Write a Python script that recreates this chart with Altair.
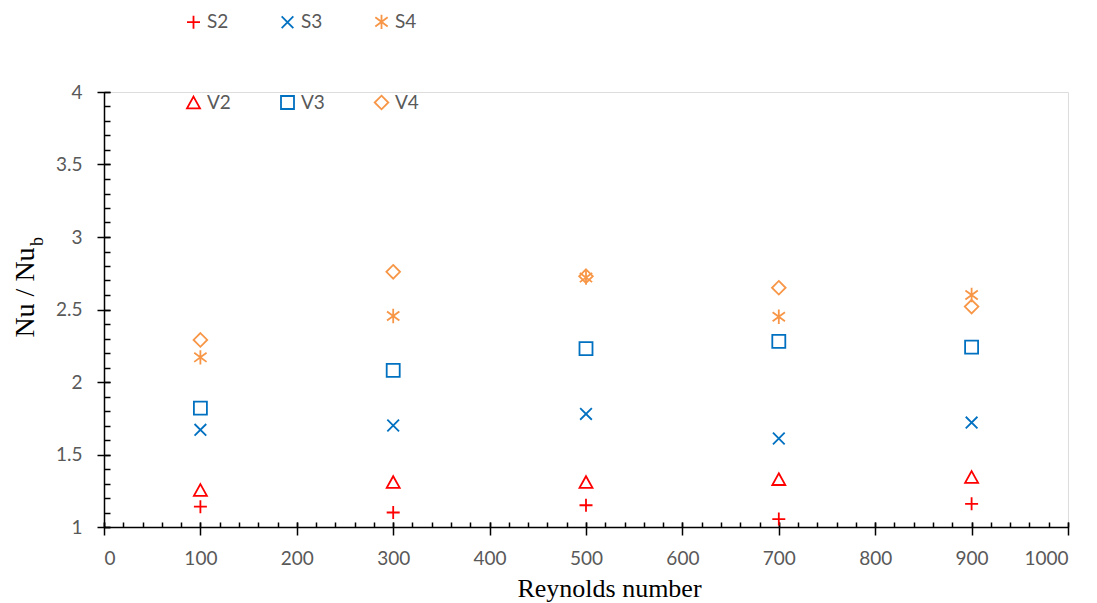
import altair as alt
import pandas as pd

# ---- data ----
RE = [100, 300, 500, 700, 900]
SERIES = ["S2", "S3", "S4", "V2", "V3", "V4"]
S2 = [1.14, 1.10, 1.15, 1.055, 1.16]
S3 = [1.67, 1.70, 1.78, 1.61, 1.72]
S4 = [2.17, 2.455, 2.72, 2.45, 2.60]
V2 = [1.255, 1.31, 1.31, 1.33, 1.345]
V3 = [1.82, 2.08, 2.23, 2.28, 2.24]
V4 = [2.29, 2.76, 2.73, 2.65, 2.52]

X_MAJOR = list(range(0, 1001, 100))
X_MINOR = list(range(0, 1001, 20))
Y_MAJOR = [1, 1.5, 2, 2.5, 3, 3.5, 4]
Y_MINOR = [round(1 + i * 0.1, 1) for i in range(31)]

X_TITLE = "Reynolds number"
Y_TITLE = "Nu / Nu"
Y_SUB = "b"

COLORS = ["#FF0000", "#0070C0", "#F79646", "#FF0000", "#0070C0", "#F79646"]
SHAPES = [
    "M-1,0L1,0M0,-1L0,1",                                   # plus
    "M-0.9,-0.9L0.9,0.9M-0.9,0.9L0.9,-0.9",                 # x
    "M0,-1.1L0,1.1M-0.95,-0.7L0.95,0.7M-0.95,0.7L0.95,-0.7",  # asterisk
    "M0,-0.9L1,0.9L-1,0.9Z",                                # triangle
    "M-1,-1L1,-1L1,1L-1,1Z",                                # square
    "M0,-1.05L1.05,0L0,1.05L-1.05,0Z",                      # diamond
]

vals = {"S2": S2, "S3": S3, "S4": S4, "V2": V2, "V3": V3, "V4": V4}
rows = []
for s in SERIES:
    for r, v in zip(RE, vals[s]):
        rows.append({"Re": r, "ratio": v, "series": s})
df = pd.DataFrame(rows)

W, H = 964, 435
LABEL_FONT = "Lato"
TITLE_FONT = "Liberation Serif"
GRAY = "#595959"

xscale = alt.Scale(domain=[0, 1000], nice=False, zero=False)
yscale = alt.Scale(domain=[1, 4], nice=False, zero=False)

base = alt.Chart(df)

points = base.mark_point(filled=False, size=169, strokeWidth=1.8, opacity=1).encode(
    x=alt.X("Re:Q", scale=xscale, axis=alt.Axis(
        orient="bottom", values=X_MAJOR, format="d", ticks=False, tickSize=0, grid=False,
        domainColor="black", domainWidth=1.5,
        labelFont=LABEL_FONT, labelFontSize=19, labelColor=GRAY, labelPadding=22,
        title=X_TITLE, titleFont=TITLE_FONT, titleFontSize=26, titleFontWeight="normal",
        titleColor="black", titleX=505, titleY=69, titleBaseline="alphabetic",
        titleAlign="center")),
    y=alt.Y("ratio:Q", scale=yscale, axis=alt.Axis(
        orient="left", values=Y_MAJOR, format="~g", ticks=False, tickSize=0, grid=False,
        domainColor="black", domainWidth=1.5,
        labelFont=LABEL_FONT, labelFontSize=19, labelColor=GRAY, labelPadding=22,
        title=Y_TITLE, titleFont=TITLE_FONT, titleFontSize=28, titleFontWeight="normal",
        titleColor="black", titleX=-71, titleY=200, titleAngle=270,
        titleBaseline="alphabetic", titleAlign="center")),
    color=alt.Color("series:N", scale=alt.Scale(domain=SERIES, range=COLORS),
                    legend=alt.Legend(
                        title=None, orient="none", legendX=80, legendY=-80, columns=3,
                        direction="horizontal", gridAlign="all",
                        columnPadding=46, rowPadding=59, padding=0,
                        symbolSize=169, symbolStrokeWidth=1.8, symbolFillColor="transparent",
                        labelFont=LABEL_FONT, labelFontSize=19, labelColor=GRAY,
                        labelOffset=4)),
    shape=alt.Shape("series:N", scale=alt.Scale(domain=SERIES, range=SHAPES)),
)

major_ticks = base.mark_point(opacity=0).encode(
    x=alt.X("Re:Q", scale=xscale, axis=alt.Axis(
        orient="bottom", values=X_MAJOR, labels=False, domain=False, grid=False, title=None,
        ticks=True, tickSize=13, tickColor="black", tickWidth=1.5, offset=-5)),
    y=alt.Y("ratio:Q", scale=yscale, axis=alt.Axis(
        orient="left", values=Y_MAJOR, labels=False, domain=False, grid=False, title=None,
        ticks=True, tickSize=13, tickColor="black", tickWidth=1.5, offset=-6)),
)

minor_ticks = base.mark_point(opacity=0).encode(
    x=alt.X("Re:Q", scale=xscale, axis=alt.Axis(
        orient="bottom", values=X_MINOR, labels=False, domain=False, grid=False, title=None,
        ticks=True, tickSize=5, tickColor="black", tickWidth=1.5, offset=-5)),
    y=alt.Y("ratio:Q", scale=yscale, axis=alt.Axis(
        orient="left", values=Y_MINOR, labels=False, domain=False, grid=False, title=None,
        ticks=True, tickSize=6, tickColor="black", tickWidth=1.5, offset=-6)),
)

sub = alt.Chart(pd.DataFrame({"t": [Y_SUB]})).mark_text(
    font=TITLE_FONT, fontSize=18, angle=270, align="left", baseline="alphabetic",
    color="black").encode(text="t:N", x=alt.value(-61), y=alt.value(154))

chart = alt.layer(minor_ticks, major_ticks, points, sub).resolve_axis(
    x="independent", y="independent").resolve_scale(x="shared", y="shared").properties(
    width=W, height=H,
    autosize=alt.AutoSizeParams(type="none"),
    padding={"left": 96, "top": 84, "right": 20, "bottom": 80},
).configure_view(stroke=None).configure(background="white")

chart.save("out.html", embed_options={"renderer": "svg", "actions": False})
